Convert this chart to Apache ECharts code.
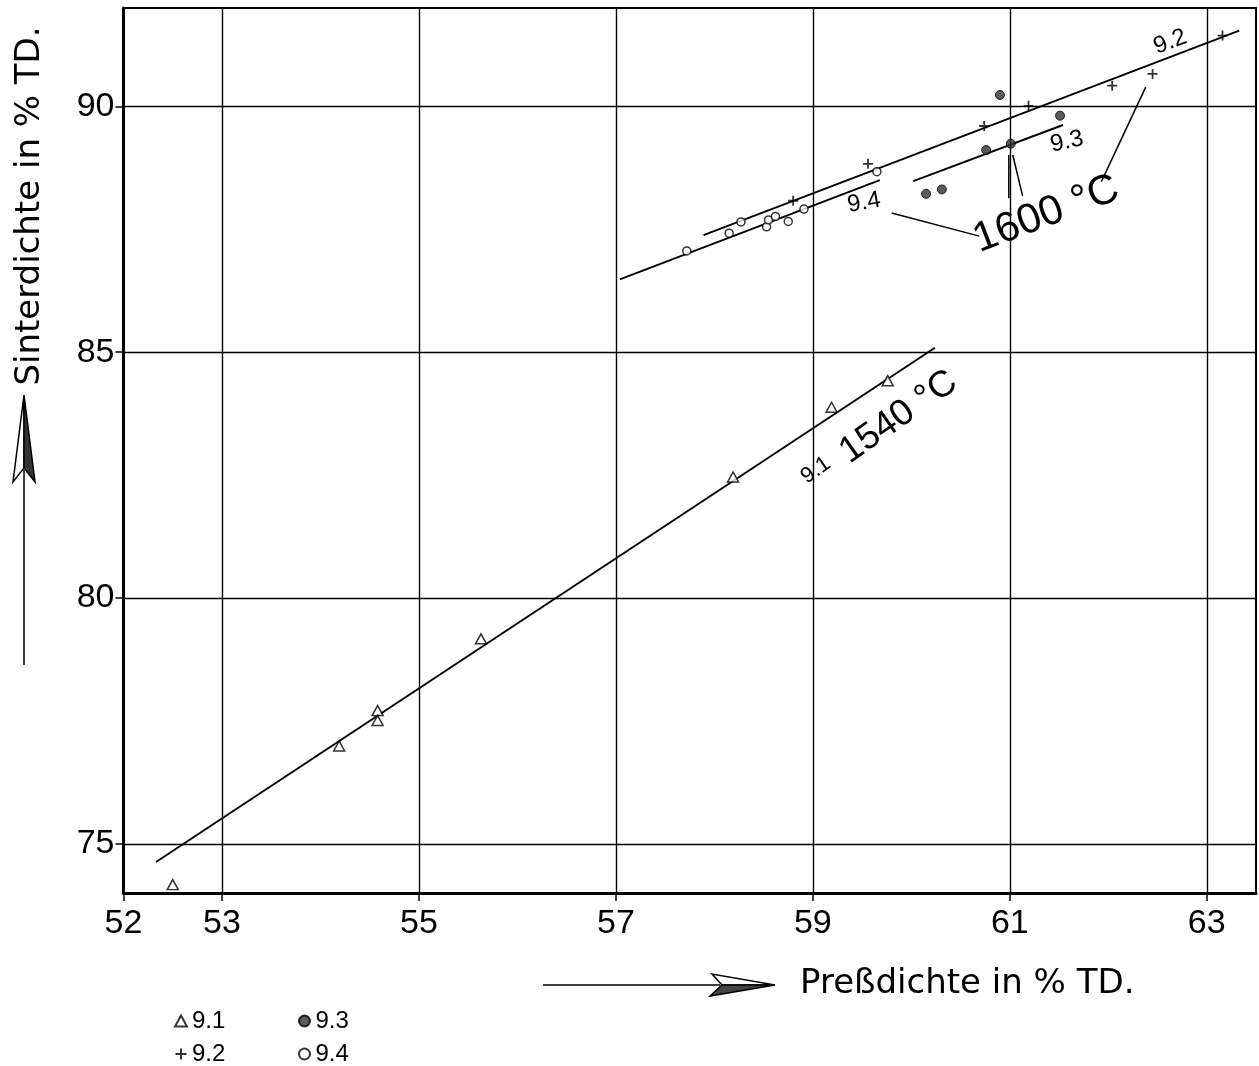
<!DOCTYPE html>
<html>
<head>
<meta charset="utf-8">
<title>Sinterdichte / Preßdichte</title>
<script src="https://cdn.jsdelivr.net/npm/echarts@6/dist/echarts.min.js"></script>
<style>
  html, body { margin: 0; padding: 0; background: #fff; }
  #chart { width: 1259px; height: 1066px; }
</style>
</head>
<body>
<div id="chart"></div>
<script>
// measured points [Preßdichte, Sinterdichte]
const s91 = [[52.50, 74.17], [54.19, 76.99], [54.58, 77.71], [54.58, 77.51], [55.63, 79.17], [58.19, 82.46], [59.19, 83.88], [59.76, 84.42]]
const s92 = [[58.80, 88.08], [59.56, 88.83], [60.74, 89.60], [61.19, 90.01], [62.04, 90.42], [62.45, 90.66], [63.16, 91.44]]
const s93 = [[60.90, 90.23], [60.15, 88.22], [60.31, 88.31], [60.76, 89.11], [61.01, 89.24], [61.51, 89.81]]
const s94 = [[57.72, 87.06], [58.15, 87.42], [58.27, 87.65], [58.53, 87.55], [58.55, 87.69], [58.62, 87.76], [58.75, 87.66], [58.91, 87.91], [59.65, 88.67]]

// fitted lines
const fit91 = [[52.33, 74.63], [60.24, 85.09]]
const fit92 = [[57.89, 87.38], [63.33, 91.54]]
const fit93 = [[60.02, 88.48], [61.54, 89.62]]
const fit94 = [[57.04, 86.48], [59.68, 88.50]]

// leader lines from the temperature notes
const leaders = [
  [[59.80, 87.83], [60.69, 87.36]],
  [[60.99, 89.01], [60.99, 88.13]],
  [[61.03, 89.01], [61.13, 88.18]],
  [[62.38, 90.39], [61.93, 88.47]]
]

// annotations
const noteText = ['9.2', '9.3', '9.4', '1600 °C', '9.1', '1540 °C']
const notePos = [[62.63, 91.31], [61.58, 89.28], [59.52, 88.04], [61.37, 87.80], [59.03, 82.60], [59.87, 83.68]]
const noteRot = [21, 12, 10, 21, 35, 35]
const noteSize = [24, 24, 24, 42, 22, 37]

// axis ticks and grid
const xTicks = [52, 53, 55, 57, 59, 61, 63]
const yTicks = [75, 80, 85, 90]
const xGrid = [53, 55, 57, 59, 61, 63]
const yGrid = [75, 80, 85, 90]

const FONT = '"Liberation Sans", Arial, sans-serif'
const TITLE_FONT = '"DejaVu Sans", sans-serif'
const chart = echarts.init(document.getElementById('chart'))

const plusPath = 'path://M0,5L10,5M5,0L5,10'

function fitSeries(name, data) {
  return {
    name: name,
    type: 'line',
    data: data,
    symbol: 'none',
    silent: true,
    z: 3,
    lineStyle: { color: '#000', width: 2 }
  }
}

const legendBase = {
  orient: 'vertical',
  top: 1004,
  height: 62,
  itemGap: 9,
  itemWidth: 12,
  itemHeight: 11,
  textStyle: { fontSize: 24, color: '#000', fontFamily: FONT }
}

const option = {
  animation: false,
  backgroundColor: '#fff',
  textStyle: { fontFamily: FONT, color: '#000' },
  grid: {
    left: 123.5,
    right: 3,
    top: 8,
    bottom: 173,
    show: true,
    borderColor: '#000',
    borderWidth: 2
  },
  xAxis: {
    type: 'value',
    min: 52,
    max: 63.5,
    interval: 1,
    axisLine: { show: true, lineStyle: { color: '#000', width: 3 } },
    axisTick: { show: true, length: 8, customValues: xTicks, lineStyle: { color: '#000', width: 1.5 } },
    axisLabel: { customValues: xTicks, fontSize: 34, margin: 14, color: '#000', fontFamily: FONT },
    splitLine: { show: false }
  },
  yAxis: {
    type: 'value',
    min: 74,
    max: 92,
    interval: 1,
    axisLine: { show: true, lineStyle: { color: '#000', width: 3 } },
    axisTick: { show: true, length: 8, customValues: yTicks, lineStyle: { color: '#000', width: 1.5 } },
    axisLabel: { customValues: yTicks, fontSize: 34, margin: 9, color: '#000', fontFamily: FONT },
    splitLine: { show: false }
  },
  legend: [
    Object.assign({}, legendBase, { data: ['9.1', '9.2'], left: 168 }),
    Object.assign({}, legendBase, { data: ['9.3', '9.4'], left: 293 })
  ],
  graphic: [
    // y axis title + arrow
    {
      type: 'text',
      x: 30, y: 206,
      rotation: Math.PI / 2,
      style: { text: 'Sinterdichte in % TD.', font: '34px ' + TITLE_FONT, fill: '#000', align: 'center', verticalAlign: 'middle' }
    },
    { type: 'line', shape: { x1: 24, y1: 665, x2: 24, y2: 470 }, style: { stroke: '#000', lineWidth: 1.5 } },
    { type: 'polygon', shape: { points: [[24, 395], [13, 482], [24, 468]] }, style: { fill: '#fff', stroke: '#000', lineWidth: 1.5 } },
    { type: 'polygon', shape: { points: [[24, 395], [24, 468], [35, 482]] }, style: { fill: '#333', stroke: '#000', lineWidth: 1.5 } },
    // x axis title + arrow
    {
      type: 'text',
      x: 800, y: 984,
      style: { text: 'Preßdichte in % TD.', font: '34px ' + TITLE_FONT, fill: '#000', align: 'left', verticalAlign: 'middle' }
    },
    { type: 'line', shape: { x1: 543, y1: 985, x2: 720, y2: 985 }, style: { stroke: '#000', lineWidth: 1.5 } },
    { type: 'polygon', shape: { points: [[775, 985], [712, 974], [722, 985]] }, style: { fill: '#fff', stroke: '#000', lineWidth: 1.5 } },
    { type: 'polygon', shape: { points: [[775, 985], [722, 985], [710, 996]] }, style: { fill: '#444', stroke: '#000', lineWidth: 1.5 } }
  ],
  series: [
    {
      name: 'grid',
      type: 'line',
      data: [],
      silent: true,
      z: 1,
      markLine: {
        silent: true,
        symbol: 'none',
        label: { show: false },
        lineStyle: { color: '#000', width: 1.4, type: 'solid' },
        data: xGrid.map(v => ({ xAxis: v })).concat(yGrid.map(v => ({ yAxis: v })))
      }
    },
    fitSeries('fit 9.1', fit91),
    fitSeries('fit 9.2', fit92),
    fitSeries('fit 9.3', fit93),
    fitSeries('fit 9.4', fit94),
    ...leaders.map((seg, i) => ({
      name: 'leader ' + i,
      type: 'line',
      data: seg,
      symbol: 'none',
      silent: true,
      z: 3,
      lineStyle: { color: '#000', width: 1.5 }
    })),
    {
      name: '9.1',
      type: 'scatter',
      data: s91,
      symbol: 'triangle',
      symbolSize: [11, 10],
      z: 5,
      itemStyle: { color: '#fff', borderColor: '#000', borderWidth: 1.5 }
    },
    {
      name: '9.2',
      type: 'scatter',
      data: s92,
      symbol: plusPath,
      symbolSize: 10,
      z: 5,
      itemStyle: { color: 'none', borderColor: '#000', borderWidth: 1.8 }
    },
    {
      name: '9.3',
      type: 'scatter',
      data: s93,
      symbol: 'circle',
      symbolSize: 9,
      z: 5,
      itemStyle: { color: '#333', borderColor: '#000', borderWidth: 1 }
    },
    {
      name: '9.4',
      type: 'scatter',
      data: s94,
      symbol: 'circle',
      symbolSize: 8,
      z: 5,
      itemStyle: { color: '#fff', borderColor: '#000', borderWidth: 1.5 }
    },
    {
      name: 'notes',
      type: 'scatter',
      symbolSize: 0,
      silent: true,
      z: 6,
      data: noteText.map((t, i) => ({
        value: notePos[i],
        label: {
          show: true,
          formatter: t,
          position: 'inside',
          rotate: noteRot[i],
          fontSize: noteSize[i],
          color: '#000',
          opacity: 1,
          textBorderWidth: 0,
          fontFamily: FONT
        }
      }))
    }
  ]
}

chart.setOption(option)
</script>
</body>
</html>
